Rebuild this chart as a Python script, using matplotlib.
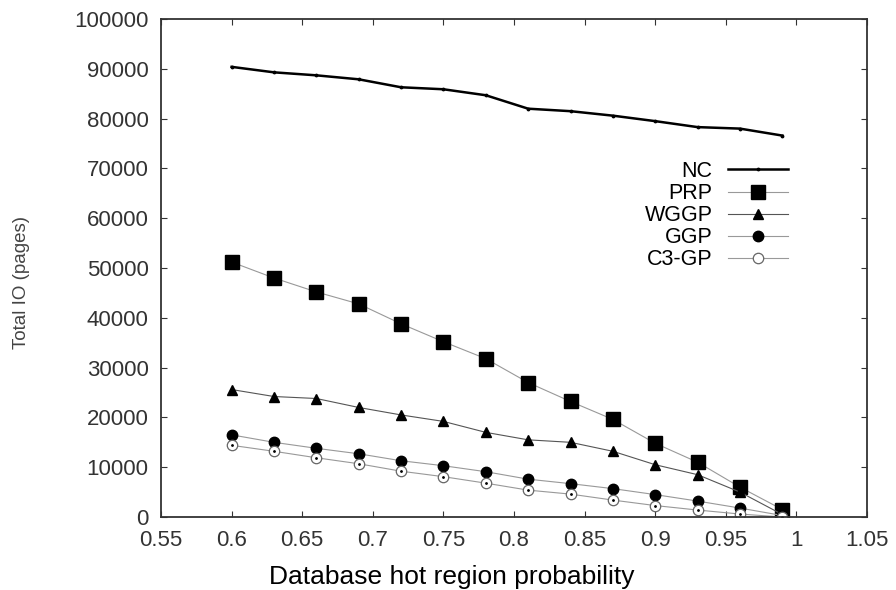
import matplotlib.pyplot as plt
import numpy as np

plt.rcParams['font.family'] = ['Liberation Sans', 'DejaVu Sans']

# hot region probability
x = [0.6, 0.63, 0.66, 0.69, 0.72, 0.75, 0.78, 0.81, 0.84, 0.87, 0.9, 0.93, 0.96, 0.99]

# total IO (pages)
nc = [90400, 89300, 88700, 87900, 86300, 85900, 84700, 82000, 81500, 80600, 79500, 78300, 78000, 76600]
prp = [51200, 48000, 45200, 42800, 38800, 35200, 31800, 27000, 23200, 19600, 14800, 11000, 6000, 1500]
wggp = [25600, 24200, 23800, 22000, 20500, 19200, 17000, 15500, 15000, 13200, 10500, 8500, 5000, 500]
ggp = [16500, 15000, 13800, 12700, 11300, 10300, 9100, 7600, 6700, 5700, 4500, 3200, 1800, 300]
c3gp = [14400, 13200, 11900, 10700, 9200, 8100, 6800, 5400, 4600, 3400, 2300, 1400, 600, 0]

fig = plt.figure(figsize=(8.96, 5.9), dpi=100)
ax = fig.add_axes([0.1797, 0.1237, 0.788, 0.844])

gray = '#999999'
ax.plot(x, nc, color='black', lw=1.8, marker='.', ms=3.5, label='NC')
ax.plot(x, prp, color=gray, lw=0.8, marker='s', ms=9.5, mfc='black', mec='black', label='PRP')
ax.plot(x, wggp, color='#555555', lw=0.8, marker='^', ms=7, mfc='black', mec='black', label='WGGP')
ax.plot(x, ggp, color=gray, lw=0.8, marker='o', ms=7.5, mfc='black', mec='black', label='GGP')
ax.plot(x, c3gp, color=gray, lw=0.8, marker='o', ms=7.5, mfc='white', mec='#666666', mew=0.9,
        label='C3-GP')
# little dot inside the open circles
ax.plot(x, c3gp, ls='none', marker='.', ms=2, color='black')

ax.set_xlim(0.55, 1.05)
ax.set_ylim(0, 100000)
ax.set_xticks(np.arange(0.55, 1.051, 0.05))
ax.set_xticklabels(['0.55', '0.6', '0.65', '0.7', '0.75', '0.8', '0.85', '0.9', '0.95', '1', '1.05'])
ax.set_yticks(np.arange(0, 100001, 10000))
ax.tick_params(direction='in', top=True, right=True, labelsize=16, length=4.5, colors='#333333')
ax.tick_params(axis='x', pad=9)
ax.tick_params(axis='y', pad=9)
for s in ax.spines.values():
    s.set_linewidth(1.3)
    s.set_color('#333333')

ax.set_xlabel('Database hot region probability', fontsize=19)
ax.xaxis.set_label_coords(0.412, -0.096)
ax.set_ylabel('Total IO (pages)', fontsize=13.5, color='#444444')
ax.yaxis.set_label_coords(-0.186, 0.47)

ax.legend(loc='upper right', bbox_to_anchor=(0.888, 0.715), frameon=False, markerfirst=False,
          fontsize=15.5, handlelength=2.8, labelspacing=0.05, handletextpad=0.7, borderpad=0,
          borderaxespad=0)

fig.savefig('out.png', dpi=100)
